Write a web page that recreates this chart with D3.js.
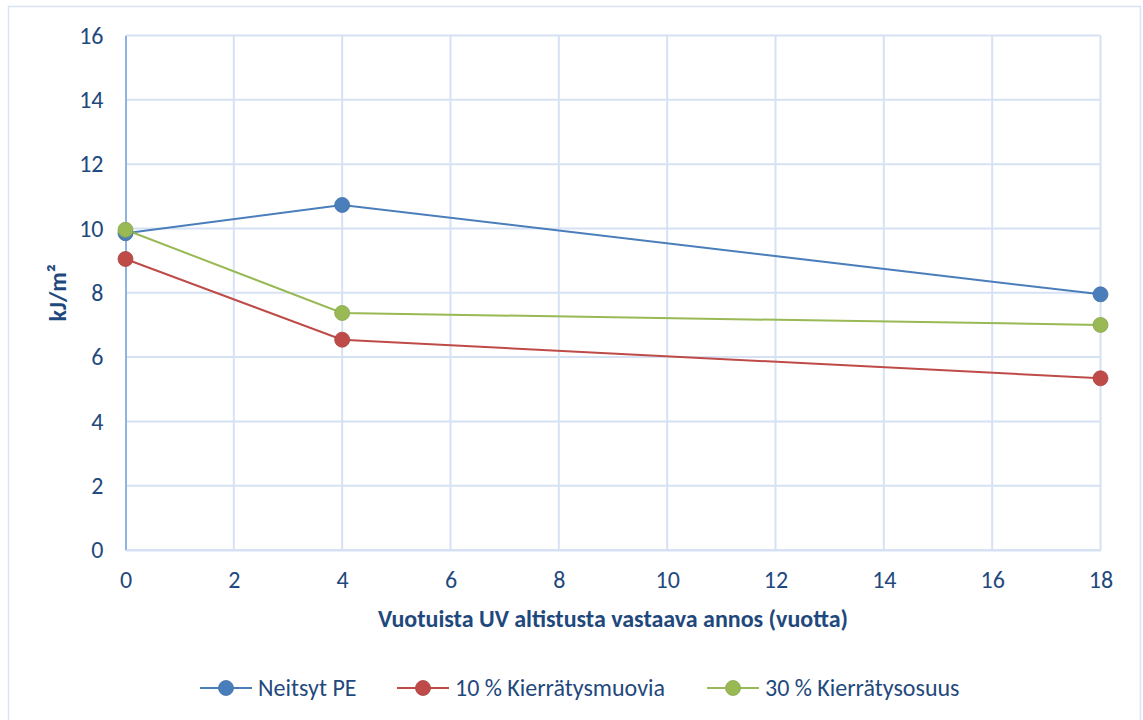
<!DOCTYPE html>
<html>
<head>
<meta charset="utf-8">
<script src="https://cdn.jsdelivr.net/npm/d3@7"></script>
<style>
  html, body { margin: 0; padding: 0; background: #fff; }
  svg { display: block; }
  text { font-family: Carlito, Calibri, "Liberation Sans Narrow", "Open Sans", sans-serif; }
</style>
</head>
<body>
<svg id="chart" width="1143" height="720"></svg>
<script>
// Impact strength (kJ/m²) after UV exposure equivalent to N years
const years = [0, 4, 18];
const neitsytPE = [9.85, 10.73, 7.95];
const kierratys10 = [9.05, 6.54, 5.34];
const kierratys30 = [9.96, 7.37, 7.0];
const seriesNames = ["Neitsyt PE", "10 % Kierrätysmuovia", "30 % Kierrätysosuus"];
const seriesColors = ["#4a7ebb", "#be4b48", "#98b954"];
const xTicks = [0, 2, 4, 6, 8, 10, 12, 14, 16, 18];
const yTicks = [0, 2, 4, 6, 8, 10, 12, 14, 16];
const xTitle = "Vuotuista UV altistusta vastaava annos (vuotta)";
const yTitle = "kJ/m²";

const seriesData = [neitsytPE, kierratys10, kierratys30].map((vals, i) => ({
  name: seriesNames[i],
  color: seriesColors[i],
  points: years.map((x, j) => ({ x, y: vals[j] }))
}));

const FONT = 'Carlito, Calibri, "Liberation Sans Narrow", "Open Sans", sans-serif';
const svg = d3.select("#chart");
const textColor = "#1f497d";
const gridColor = "#d6e2f3";

// outer chart frame
svg.append("rect")
  .attr("x", 8.5).attr("y", 6.5)
  .attr("width", 1132).attr("height", 720)
  .attr("fill", "#fff").attr("stroke", "#d9e4f2").attr("stroke-width", 1.5);

const plot = { left: 125.5, right: 1100.5, top: 35.5, bottom: 550 };
const x = d3.scaleLinear().domain([0, 18]).range([plot.left, plot.right]);
const y = d3.scaleLinear().domain([0, 16]).range([plot.bottom, plot.top]);

// gridlines
const grid = svg.append("g");
grid.selectAll("line.h").data(yTicks).join("line")
  .attr("x1", plot.left).attr("x2", plot.right)
  .attr("y1", d => y(d)).attr("y2", d => y(d))
  .attr("stroke", gridColor).attr("stroke-width", 2);
grid.selectAll("line.v").data(xTicks.slice(1)).join("line")
  .attr("x1", d => x(d)).attr("x2", d => x(d))
  .attr("y1", plot.top).attr("y2", plot.bottom)
  .attr("stroke", gridColor).attr("stroke-width", 2);

// y axis (left line + labels)
const yAxis = d3.axisLeft(y).tickValues(yTicks).tickSize(0).tickPadding(22);
const gy = svg.append("g").attr("transform", `translate(${plot.left},0)`).call(yAxis);
gy.select(".domain").attr("stroke", "#8fb3e0").attr("stroke-width", 2);
gy.selectAll("text").attr("fill", textColor).attr("font-size", 24).attr("font-family", FONT);

// x axis
const xAxis = d3.axisBottom(x).tickValues(xTicks).tickSize(0).tickPadding(20);
const gx = svg.append("g").attr("transform", `translate(0,${plot.bottom})`).call(xAxis);
gx.select(".domain").attr("stroke", gridColor).attr("stroke-width", 2);
gx.selectAll("text").attr("fill", textColor).attr("font-size", 24).attr("font-family", FONT)
  .attr("dy", null).attr("y", 38);

// axis titles
svg.append("text")
  .attr("x", (plot.left + plot.right) / 2).attr("y", 627)
  .attr("text-anchor", "middle").attr("fill", textColor)
  .attr("font-size", 24).attr("font-weight", "bold")
  .text(xTitle);
svg.append("text")
  .attr("transform", `translate(66,${(plot.top + plot.bottom) / 2}) rotate(-90)`)
  .attr("text-anchor", "middle").attr("fill", textColor)
  .attr("font-size", 24).attr("font-weight", "bold")
  .text(yTitle);

// series lines and markers
const line = d3.line().x(d => x(d.x)).y(d => y(d.y));
seriesData.forEach(s => {
  svg.append("path").datum(s.points)
    .attr("d", line).attr("fill", "none")
    .attr("stroke", s.color).attr("stroke-width", 2);
});
seriesData.forEach(s => {
  svg.append("g").selectAll("circle").data(s.points).join("circle")
    .attr("cx", d => x(d.x)).attr("cy", d => y(d.y)).attr("r", 7.5)
    .attr("fill", s.color).attr("stroke", d3.color(s.color).darker(0.3)).attr("stroke-width", 0.8);
});

// legend
const legendX = [200, 397, 707];
const legendY = 688;
const lg = svg.append("g");
seriesData.forEach((s, i) => {
  const g = lg.append("g").attr("transform", `translate(${legendX[i]},${legendY})`);
  g.append("line").attr("x1", 0).attr("x2", 52).attr("y1", 0).attr("y2", 0)
    .attr("stroke", s.color).attr("stroke-width", 2);
  g.append("circle").attr("cx", 26).attr("cy", 0).attr("r", 7.5)
    .attr("fill", s.color).attr("stroke", d3.color(s.color).darker(0.3)).attr("stroke-width", 0.8);
  g.append("text").attr("x", 58).attr("y", 0).attr("dy", "0.35em")
    .attr("fill", textColor).attr("font-size", 24).text(s.name);
});
</script>
</body>
</html>
